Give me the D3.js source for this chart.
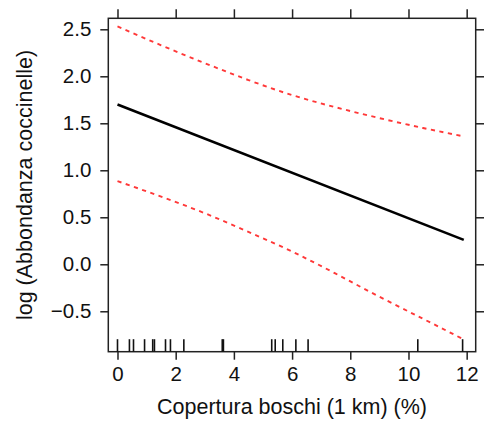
<!DOCTYPE html>
<html>
<head>
<meta charset="utf-8">
<script src="https://cdn.jsdelivr.net/npm/d3@7"></script>
<style>
  html, body { margin: 0; padding: 0; background: #fff; }
  svg { display: block; font-family: "Liberation Sans", Arial, sans-serif; }
</style>
</head>
<body>
<svg id="chart" width="484" height="423"></svg>
<script>
// Effect of woodland cover on ladybird abundance (log scale), with confidence band
const coverX = [0, 11.9];
const fitY = [1.70, 0.26];

const bandX = [0, 1.5, 3, 4.5, 6, 7.5, 9, 10.5, 11.9];
const upperY = [2.53, 2.33, 2.14, 1.96, 1.80, 1.67, 1.555, 1.45, 1.36];
const lowerY = [0.885, 0.72, 0.543, 0.345, 0.135, -0.10, -0.345, -0.58, -0.80];

// Observed cover values shown as a rug
const rugX = [0, 0.41, 0.55, 0.93, 1.21, 1.27, 1.65, 1.82, 2.28, 3.60, 3.64,
              5.30, 5.42, 5.68, 6.13, 6.55, 10.32, 11.86];

const xTicks = [0, 2, 4, 6, 8, 10, 12];
const yTicks = [-0.5, 0, 0.5, 1.0, 1.5, 2.0, 2.5];

const xTitle = "Copertura boschi (1 km) (%)";
const yTitle = "log (Abbondanza coccinelle)";

const svg = d3.select("#chart");
const box = { left: 108.3, right: 475.7, top: 18.3, bottom: 351.7 };

const x = d3.scaleLinear().domain([-0.316, 12.31]).range([box.left, box.right]);
const y = d3.scaleLinear().domain([-0.93, 2.617]).range([box.bottom, box.top]);

const axisColor = "#222";
const tickLen = 8;

// Axes: labelled on left/bottom, tick-only on top/right
const fmt = d3.format(".1f");
const gLeft = svg.append("g").attr("transform", `translate(${box.left},0)`)
  .call(d3.axisLeft(y).tickValues(yTicks).tickFormat(fmt).tickSize(tickLen).tickPadding(9));
const gBottom = svg.append("g").attr("transform", `translate(0,${box.bottom})`)
  .call(d3.axisBottom(x).tickValues(xTicks).tickFormat(d3.format("d")).tickSize(tickLen).tickPadding(5));
const gTop = svg.append("g").attr("transform", `translate(0,${box.top})`)
  .call(d3.axisTop(x).tickValues(xTicks).tickFormat("").tickSize(tickLen + 1));
const gRight = svg.append("g").attr("transform", `translate(${box.right},0)`)
  .call(d3.axisRight(y).tickValues(yTicks).tickFormat("").tickSize(tickLen + 1));

[gLeft, gBottom, gTop, gRight].forEach(g => {
  g.select(".domain").remove();
  g.selectAll(".tick line").attr("stroke", axisColor).attr("stroke-width", 1.5);
  g.selectAll(".tick text").attr("fill", "#111").style("font-size", "20.5px");
});
gBottom.selectAll(".tick text").attr("dy", "0.8em");

// Plot frame
svg.append("rect")
  .attr("x", box.left).attr("y", box.top)
  .attr("width", box.right - box.left).attr("height", box.bottom - box.top)
  .attr("fill", "none").attr("stroke", axisColor).attr("stroke-width", 1.5);

// Rug
svg.append("g").selectAll("line").data(rugX).join("line")
  .attr("x1", d => x(d)).attr("x2", d => x(d))
  .attr("y1", box.bottom - 12.5).attr("y2", box.bottom)
  .attr("stroke", "#111").attr("stroke-width", 1.6);

// Confidence band limits
const bandLine = vals => d3.line()
  .x((d, i) => x(bandX[i]))
  .y(d => y(d))
  .curve(d3.curveNatural)(vals);

[upperY, lowerY].forEach(vals => {
  svg.append("path")
    .attr("d", bandLine(vals))
    .attr("fill", "none")
    .attr("stroke", "#ff3838")
    .attr("stroke-width", 1.9)
    .attr("stroke-dasharray", "4.2,4.5");
});

// Fitted effect
svg.append("path")
  .attr("d", d3.line().x((d, i) => x(coverX[i])).y(d => y(d))(fitY))
  .attr("fill", "none")
  .attr("stroke", "#000")
  .attr("stroke-width", 2.6);

// Axis titles
svg.append("text")
  .attr("x", (box.left + box.right) / 2).attr("y", 414)
  .attr("text-anchor", "middle")
  .style("font-size", "21.5px").attr("fill", "#111")
  .text(xTitle);

svg.append("text")
  .attr("transform", `translate(32,${(box.top + box.bottom) / 2}) rotate(-90)`)
  .attr("text-anchor", "middle")
  .style("font-size", "21.5px").attr("fill", "#111")
  .text(yTitle);
</script>
</body>
</html>
